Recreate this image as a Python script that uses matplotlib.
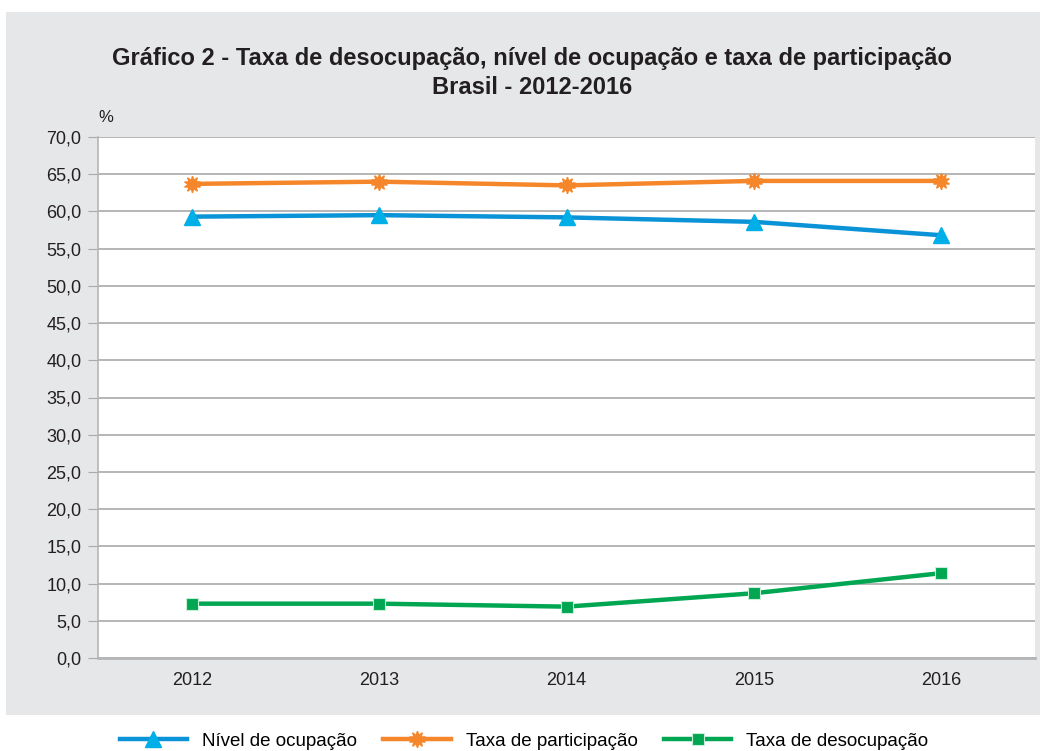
import matplotlib
matplotlib.use("Agg")
import matplotlib.pyplot as plt
from matplotlib.ticker import FuncFormatter, MultipleLocator

years = ["2012", "2013", "2014", "2015", "2016"]
nivel_ocupacao = [59.3, 59.5, 59.2, 58.6, 56.8]
taxa_participacao = [63.7, 64.0, 63.5, 64.1, 64.1]
taxa_desocupacao = [7.3, 7.3, 6.9, 8.7, 11.4]

plt.rcParams['font.family'] = ['Liberation Sans', 'DejaVu Sans']

fig = plt.figure(figsize=(10.51, 7.51), dpi=100)
fig.patch.set_facecolor('white')

bg = fig.add_axes([6/1051, 1-715/751, (1040-6)/1051, (715-12)/751], zorder=-5)
bg.set_facecolor('#e6e7e9')
bg.set_xticks([]); bg.set_yticks([])
for s in bg.spines.values():
    s.set_visible(False)

ax = fig.add_axes([98/1051, 1-658/751, (1035-98)/1051, (658-137)/751], zorder=1)
ax.set_facecolor('white')
x = list(range(len(years)))

l1, = ax.plot(x, nivel_ocupacao, color='#0a93d6', lw=3.2, marker='^', ms=11,
              mfc='#00aee8', mec='#00aee8', label='Nível de ocupação', zorder=3)
l2, = ax.plot(x, taxa_participacao, color='#f5862a', lw=3.2, marker=(10, 1, 0), ms=12,
              mfc='#f5862a', mec='#f5862a', label='Taxa de participação', zorder=3)
l3, = ax.plot(x, taxa_desocupacao, color='#00a651', lw=3.2, marker='s', ms=9,
              mfc='#00a651', mec='#c8efd8', mew=0.8, label='Taxa de desocupação', zorder=3)

ax.set_xlim(-0.5, 4.5)
ax.set_ylim(0, 70)
ax.yaxis.set_major_locator(MultipleLocator(5))
ax.yaxis.set_major_formatter(FuncFormatter(lambda v, p: f"{v:.1f}".replace('.', ',')))
ax.set_xticks(x)
ax.set_xticklabels(years)
ax.grid(axis='y', color='#a9a9a9', lw=1.2)
ax.set_axisbelow(True)
ax.tick_params(axis='y', length=7, color='#a9a9a9', labelsize=13, pad=5, labelcolor='#231f20')
ax.tick_params(axis='x', length=0, labelsize=13, pad=10, labelcolor='#231f20')
for s in ['top', 'right']:
    ax.spines[s].set_visible(False)
ax.spines['left'].set_color('#b5b5b5')
ax.spines['left'].set_linewidth(1.2)
ax.spines['bottom'].set_color('#b5b5b5')
ax.spines['bottom'].set_linewidth(2.0)

fig.text(532/1051, 1-58/751, 'Gráfico 2 - Taxa de desocupação, nível de ocupação e taxa de participação',
         ha='center', va='center', fontsize=17, fontweight='bold', color='#231f20')
fig.text(532/1051, 1-87/751, 'Brasil - 2012-2016',
         ha='center', va='center', fontsize=17, fontweight='bold', color='#231f20')
fig.text(98/1051, 1-117/751, '%', ha='left', va='center', fontsize=12, color='#231f20')

fig.legend(handles=[l1, l2, l3], loc='center', bbox_to_anchor=(524/1051, 1-741/751),
           ncol=3, frameon=False, fontsize=13.5, handlelength=3.6, columnspacing=1.4,
           handletextpad=0.8, borderaxespad=0, borderpad=0)

fig.savefig('out.png', dpi=100)
